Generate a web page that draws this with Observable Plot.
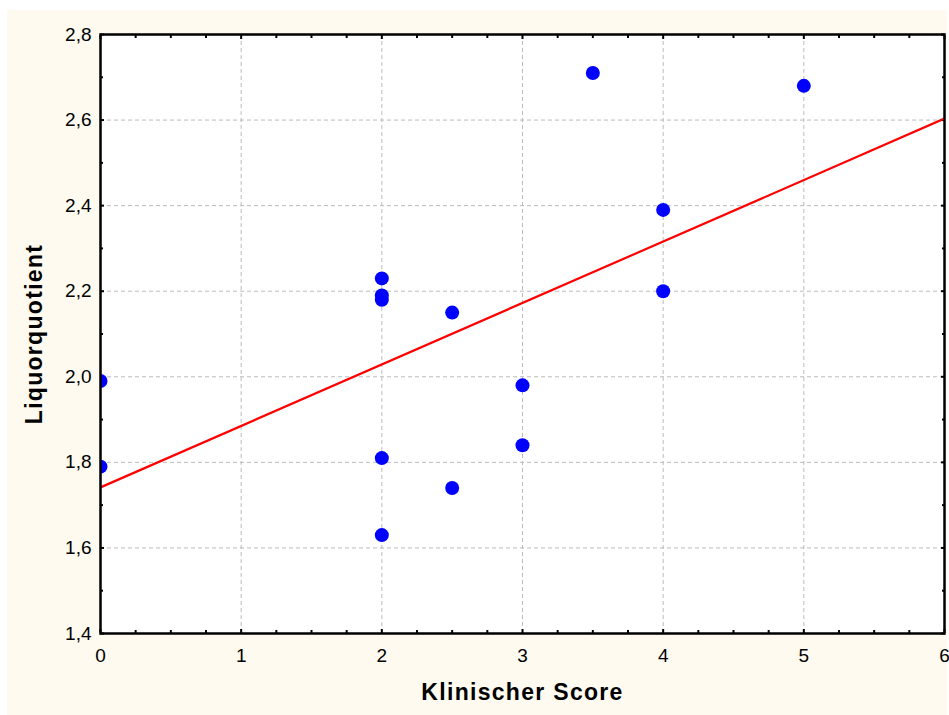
<!DOCTYPE html>
<html><head><meta charset="utf-8">
<script src="https://cdn.jsdelivr.net/npm/d3@7"></script>
<script src="https://cdn.jsdelivr.net/npm/@observablehq/plot@0.6"></script>
<style>
body{margin:0;background:#fff;}
#bg{position:absolute;left:7px;top:10px;width:940px;height:705px;background:#fefaf0;}
#chart{position:absolute;left:0;top:0;}
</style></head><body><div id="bg"></div><div id="chart"></div>
<script>
const scoreValues    = [0, 0, 2, 2, 2, 2, 2, 2.5, 2.5, 3, 3, 3.5, 4, 4, 5];
const quotientValues = [1.99, 1.79, 2.23, 2.19, 2.18, 1.81, 1.63, 2.15, 1.74, 1.98, 1.84, 2.71, 2.39, 2.20, 2.68];
const xTicks = [0, 1, 2, 3, 4, 5, 6];
const yTicks = [1.4, 1.6, 1.8, 2.0, 2.2, 2.4, 2.6, 2.8];
const xMinorTicks = [0.25, 0.5, 0.75, 1.25, 1.5, 1.75, 2.25, 2.5, 2.75, 3.25, 3.5, 3.75, 4.25, 4.5, 4.75, 5.25, 5.5, 5.75];
const yMinorTicks = [1.5, 1.7, 1.9, 2.1, 2.3, 2.5, 2.7];
const xLabel = "Klinischer Score";
const yLabel = "Liquorquotient";

const data = scoreValues.map((x, i) => ({x, y: quotientValues[i]}));
const mx = d3.mean(scoreValues), my = d3.mean(quotientValues);
const slope = d3.sum(data, d => (d.x - mx) * (d.y - my)) / d3.sum(data, d => (d.x - mx) ** 2);
const intercept = my - slope * mx;
const xDomain = [xTicks[0], xTicks[xTicks.length - 1]];
const fitLine = xDomain.map(x => ({x, y: intercept + slope * x}));

const fmt = d => d.toFixed(1).replace(".", ",");
const none = () => "";
const font = "'Liberation Sans', Arial, sans-serif";

const tickAxes = [];
for (const [anchor, ticks, size] of [["bottom", xTicks, -4], ["top", xTicks, -4], ["bottom", xMinorTicks, -3], ["top", xMinorTicks, -3]]) {
  tickAxes.push(Plot.axisX({anchor, ticks, tickSize: size, tickFormat: none, label: null, strokeWidth: 2}));
}
for (const [anchor, ticks, size] of [["left", yTicks, -4], ["right", yTicks, -4], ["left", yMinorTicks, -3], ["right", yMinorTicks, -3]]) {
  tickAxes.push(Plot.axisY({anchor, ticks, tickSize: size, tickFormat: none, label: null, strokeWidth: 2}));
}

const chart = Plot.plot({
  width: 949,
  height: 715,
  marginLeft: 100,
  marginTop: 34,
  marginRight: 5,
  marginBottom: 82,
  style: {background: "transparent", fontFamily: font, fontSize: "19px", color: "black"},
  x: {domain: xDomain},
  y: {domain: [yTicks[0], yTicks[yTicks.length - 1]]},
  marks: [
    Plot.frame({fill: "white", stroke: null}),
    Plot.gridX(xTicks, {stroke: "#bbb", strokeOpacity: 1, strokeDasharray: "4,3"}),
    Plot.gridY(yTicks, {stroke: "#bbb", strokeOpacity: 1, strokeDasharray: "4,3"}),
    Plot.axisX({ticks: xTicks, tickSize: 0, tickPadding: 15, tickFormat: d => String(d), fontSize: 19, label: null}),
    Plot.axisY({ticks: yTicks, tickSize: 0, tickPadding: 9, tickFormat: fmt, fontSize: 19, label: null}),
    ...tickAxes,
    Plot.line(fitLine, {x: "x", y: "y", stroke: "#ff0000", strokeWidth: 2.2, clip: true}),
    Plot.dot(data, {x: "x", y: "y", r: 7, fill: "#0000ff", stroke: null, clip: true}),
    Plot.frame({stroke: "black", strokeWidth: 2.5}),
    Plot.text([xLabel], {frameAnchor: "bottom", dy: 66, text: d => d, fontSize: 23, fontWeight: "bold", fill: "black"}),
    Plot.text([yLabel], {frameAnchor: "left", dx: -66, rotate: -90, textAnchor: "middle", text: d => d, fontSize: 23, fontWeight: "bold", fill: "black"})
  ]
});
chart.querySelectorAll("text").forEach(t => {
  if (t.textContent === xLabel || t.textContent === yLabel) t.style.letterSpacing = "1.3px";
  else t.style.fontSize = "19px";
});
document.getElementById("chart").appendChild(chart);
</script>
</body></html>
